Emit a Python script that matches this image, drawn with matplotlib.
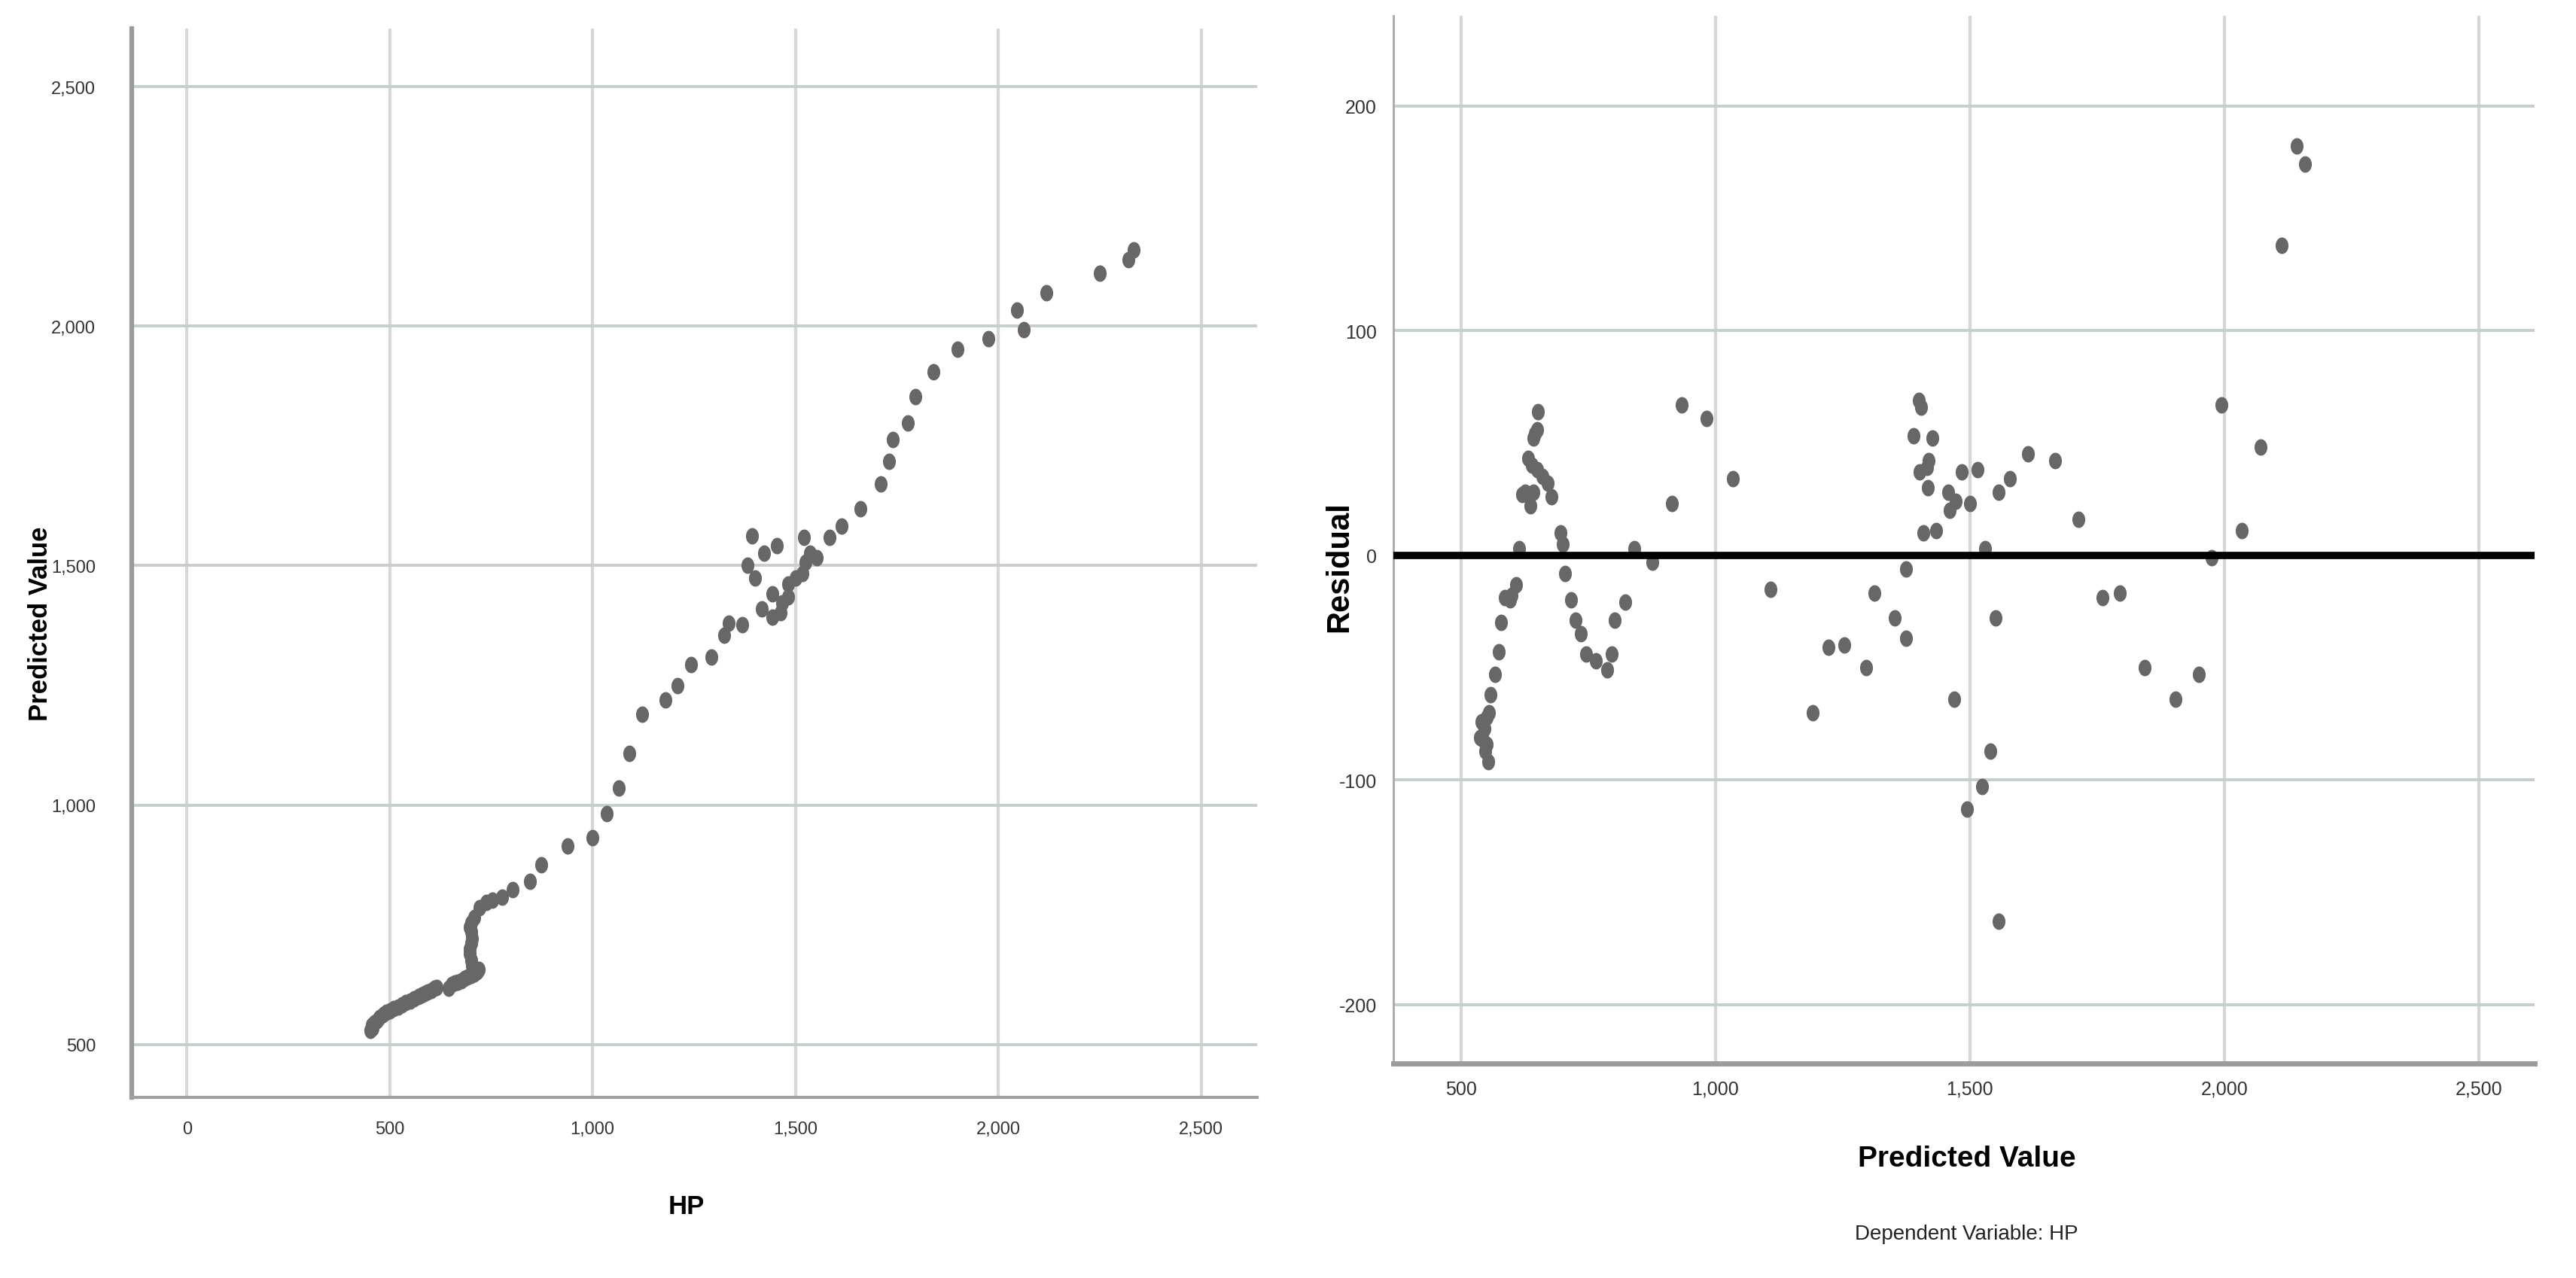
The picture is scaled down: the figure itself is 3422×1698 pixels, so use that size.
import numpy as np
from matplotlib import pyplot as plt

# left panel: observed HP vs predicted value
hp = [452, 455, 458, 462, 468, 475, 483, 492, 500, 510, 520, 530, 540, 550, 560, 570, 578, 586, 594, 602, 610, 616,
      645, 652, 660, 668, 676, 684, 692, 700, 708, 715, 720,
      703, 700, 698, 697, 700, 702, 700, 698, 700,
      709, 721, 737, 753, 777, 802, 845, 873, 938, 1000, 1035, 1065, 1090,
      1122, 1179, 1210, 1243, 1292, 1324, 1336, 1368, 1393, 1381, 1422, 1454, 1400, 1418, 1443, 1443, 1464, 1468,
      1482, 1482, 1500, 1518, 1525, 1521, 1536, 1553, 1585, 1614, 1660, 1710, 1731, 1740, 1777,
      1795, 1840, 1899, 1975, 2046, 2062, 2119, 2250, 2321, 2333]
pred = [530, 540, 535, 545, 550, 556, 563, 567, 570, 575, 579, 583, 587, 591, 596, 600, 603, 607, 610, 613, 617, 619,
        617, 625, 628, 630, 633, 638, 641, 645, 648, 652, 657,
        665, 675, 690, 700, 712, 722, 735, 745, 755,
        765, 786, 796, 802, 807, 823, 841, 875, 914, 932, 982, 1035, 1108,
        1190, 1220, 1250, 1294, 1309, 1355, 1379, 1377, 1562, 1500, 1526, 1542, 1474, 1410, 1441, 1392, 1402, 1422,
        1435, 1461, 1474, 1484, 1507, 1559, 1526, 1516, 1559, 1582, 1618, 1671, 1717, 1763, 1797,
        1853, 1905, 1951, 1974, 2034, 1993, 2070, 2111, 2138, 2159]

# right panel: predicted value vs residual
pv = [554, 548, 538, 544, 551, 541, 551, 555, 546, 559, 567, 574, 579, 587, 597, 600, 609, 614, 620, 627,
      637, 643, 633, 640, 650, 660, 670, 678, 643, 646, 650, 651, 696, 700, 705, 716, 726, 736, 746, 766,
      787, 797, 803, 823, 841, 876, 915, 934, 983, 1034, 1109, 1192, 1223, 1254, 1297, 1312,
      1400, 1404, 1390, 1427, 1419, 1416, 1401, 1418, 1408, 1434, 1375, 1352, 1374, 1457, 1460, 1472, 1484,
      1500, 1515, 1530, 1470, 1551, 1540, 1524, 1495, 1556, 1556, 1579, 1615, 1668, 1714, 1761, 1794, 1843,
      1904, 1950, 1975, 1995, 2034, 2071, 2112, 2143, 2158]
res = [-92, -87, -81, -82, -84, -74, -72, -70, -77, -62, -53, -43, -30, -19, -20, -18, -13, 3, 27, 28,
       22, 28, 43, 40, 38, 35, 32, 26, 52, 54, 56, 64, 10, 5, -8, -20, -29, -35, -44, -47,
       -51, -44, -29, -21, 3, -3, 23, 67, 61, 34, -15, -70, -41, -40, -50, -17,
       69, 66, 53, 52, 42, 39, 37, 30, 10, 11, -6, -28, -37, 28, 20, 24, 37,
       23, 38, 3, -64, -28, -87, -103, -113, -163, 28, 34, 45, 42, 16, -19, -17, -50,
       -64, -53, -1, 67, 11, 48, 138, 182, 174]

left_xticks = [0, 500, 1000, 1500, 2000, 2500]
left_yticks = [500, 1000, 1500, 2000, 2500]
right_xticks = [500, 1000, 1500, 2000, 2500]
right_yticks = [-200, -100, 0, 100, 200]

narrow = ['Liberation Sans Narrow', 'Liberation Sans', 'DejaVu Sans']
plt.rcParams['font.family'] = narrow

dot = '#676767'
t = np.linspace(0, 2 * np.pi, 40)
ellipse = np.column_stack([0.78 * np.cos(t), np.sin(t)])

fig = plt.figure(figsize=(34.22, 16.99), dpi=100)

def style(ax, xticks, yticks, fs, xpad, ypad):
    for s in ['top', 'right']:
        ax.spines[s].set_visible(False)
    ax.set_xticks(xticks)
    ax.set_yticks(yticks)
    ax.set_xticklabels(['{:,}'.format(v) for v in xticks])
    ax.set_yticklabels(['{:,}'.format(v) for v in yticks])
    ax.tick_params(length=0, labelsize=fs, labelcolor='#333333')
    ax.tick_params(axis='x', pad=xpad)
    ax.tick_params(axis='y', pad=ypad)
    ax.xaxis.grid(True, color='#d6d6d6', lw=3)
    ax.yaxis.grid(True, color='#c4cfcd', lw=2.8)
    ax.set_axisbelow(True)

# left
ax1 = fig.add_axes([0.051, 0.141, 0.437, 0.836])
ax1.scatter(hp, pred, s=250, marker=ellipse, color=dot, linewidths=0, zorder=3)
ax1.set_xlim(-137, 2638)
ax1.set_ylim(389, 2621)
style(ax1, left_xticks, left_yticks, 17, 22, 34)
ax1.spines['left'].set_color('#9a9a9a')
ax1.spines['left'].set_linewidth(4.5)
ax1.spines['bottom'].set_color('#a0a0a0')
ax1.spines['bottom'].set_linewidth(3)

# right
ax2 = fig.add_axes([0.541, 0.168, 0.443, 0.819])
ax2.scatter(pv, res, s=250, marker=ellipse, color=dot, linewidths=0, zorder=3)
ax2.axhline(0, color='black', lw=7, zorder=4)
ax2.set_xlim(368, 2610)
ax2.set_ylim(-226, 240)
style(ax2, right_xticks, right_yticks, 18, 16, 16)
ax2.spines['left'].set_color('#a8a8a8')
ax2.spines['left'].set_linewidth(2)
ax2.spines['bottom'].set_color('#9c9c9c')
ax2.spines['bottom'].set_linewidth(5)

fig.text(0.0155, 0.512, 'Predicted Value', rotation=90, ha='center', va='center',
         fontsize=25, fontweight='bold')
fig.text(0.2666, 0.0565, 'HP', ha='center', va='center', fontsize=25, fontweight='bold')
fig.text(0.5198, 0.557, 'Residual', rotation=90, ha='center', va='center',
         fontsize=30, fontweight='bold', family=['Liberation Sans', 'DejaVu Sans'])
fig.text(0.7634, 0.0937, 'Predicted Value', ha='center', va='center', fontsize=28, fontweight='bold')
fig.text(0.7634, 0.0347, 'Dependent Variable: HP', ha='center', va='center', fontsize=20, color='#222222')

plt.savefig('out.png', dpi=100, facecolor='white')
